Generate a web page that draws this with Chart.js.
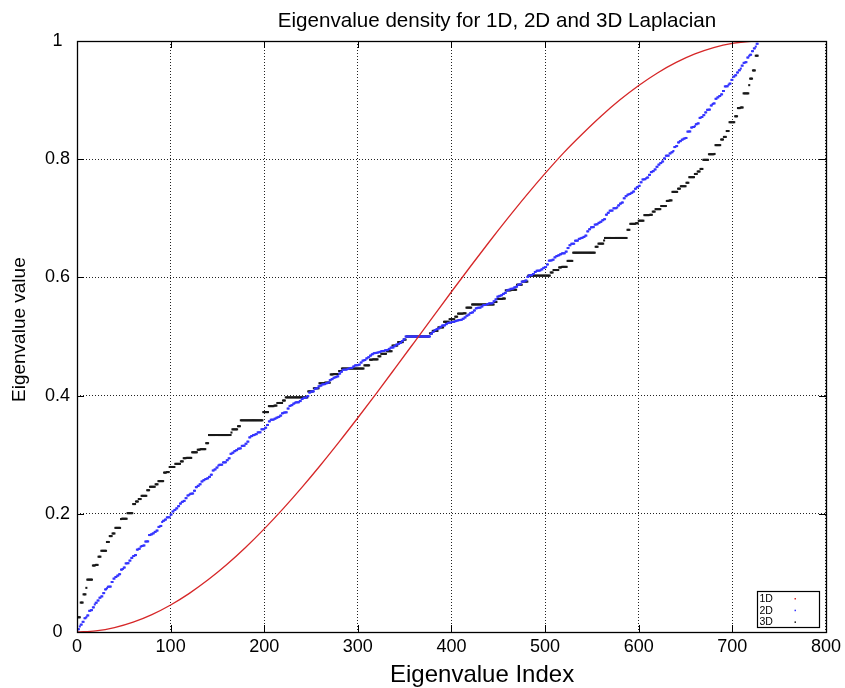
<!DOCTYPE html>
<html>
<head>
<meta charset="utf-8">
<title>Eigenvalue density for 1D, 2D and 3D Laplacian</title>
<script src="https://cdn.jsdelivr.net/npm/chart.js@4.4.1/dist/chart.umd.min.js"></script>
<style>
  html, body { margin: 0; padding: 0; background: #fff; }
  #wrap { width: 845px; height: 688px; position: relative; }
</style>
</head>
<body>
<div id="wrap"><canvas id="chart" width="845" height="688"></canvas></div>
<script>
// Normalised Laplacian spectra (0 = smallest eigenvalue, 1 = largest), 729 eigenvalues each.

// 1D chain of 729 nodes: sampled along the index axis
const idx1D = [0,20,40,60,80,100,120,140,160,180,200,220,240,260,280,300,320,340,360,380,
               400,420,440,460,480,500,520,540,560,580,600,620,640,660,680,700,720,728];
const eig1D = [0,0.0019,0.0074,0.0166,0.0294,0.0457,0.0654,0.0883,0.1142,0.1430,
               0.1745,0.2083,0.2443,0.2822,0.3217,0.3625,0.4043,0.4469,0.4898,0.5328,
               0.5757,0.6180,0.6595,0.6998,0.7388,0.7760,0.8112,0.8431,0.8731,0.9004,
               0.9247,0.9459,0.9637,0.9781,0.9889,0.9961,0.9996,1];

// 2D 27x27 grid: distinct eigenvalues in ascending order and their multiplicities
const eig2DLevels = [
  0,.0047,.0094,.0125,.0172,.0233,.0250,.0280,.0358,.0370,.0417,.0466,.0495,
  .0533,.0580,.0603,.0658,.0721,.0740,.0766,.0768,.0846,.0903,.0931,.0954,.0978,
  .1056,.1066,.1091,.1161,.1164,.1208,.1254,.1286,.1301,.1394,.1408,.1442,.1455,.1464,
  .1531,.1533,.1641,.1652,.1669,.1694,.1716,.1778,.1794,.1862,.1882,.1902,.1940,.1941,.1987,
  .2039,.2065,.2092,.2129,.2173,.2202,.2218,.2265,.2310,.2322,.2339,.2343,.2390,.2451,.2473,
  .2500,.2547,.2569,.2588,.2600,.2625,.2661,.2733,.2751,.2782,.2816,.2829,.2830,.2870,.2871,.2907,.2939,
  .3015,.3033,.3060,.3077,.3101,.3107,.3149,.3152,.3185,.3221,.3293,.3315,.3331,.3338,.3348,.3378,.3379,.3430,.3431,.3456,
  .3503,.3564,.3592,.3593,.3609,.3626,.3639,.3661,.3701,.3713,.3717,.3781,.3825,.3839,.3864,.3880,.3886,.3887,.3908,.3943,.3962,.3964,.3991,
  .4052,.4069,.4072,.4116,.4125,.4158,.4169,.4190,.4194,.4209,.4221,.4262,.4279,.4302,.4313,.4326,.4372,.4404,.4436,.4439,.4440,.4451,.4467,.4468,.4492,
  .4512,.4514,.4523,.4560,.4592,.4602,.4630,.4649,.4677,.4700,.4718,.4722,.4729,.4739,.4753,.4755,.4767,.4770,.4790,.4812,.4814,.4837,.4863,.4875,.4892,.4922,.4953,
  .5,
  .5047,.5078,.5108,.5125,.5137,.5163,.5186,.5188,.5210,.5230,.5233,.5245,.5247,.5261,.5271,.5278,.5282,.5300,.5323,.5351,.5370,.5398,.5408,.5440,.5477,.5486,.5488,
  .5508,.5532,.5533,.5549,.5560,.5561,.5564,.5596,.5628,.5674,.5687,.5698,.5721,.5738,.5779,.5791,.5806,.5810,.5831,.5842,.5875,.5884,.5928,.5931,.5948,
  .6009,.6036,.6038,.6057,.6092,.6113,.6114,.6120,.6136,.6161,.6175,.6219,.6283,.6287,.6299,.6339,.6361,.6374,.6391,.6407,.6408,.6436,.6497,
  .6544,.6569,.6570,.6621,.6622,.6652,.6662,.6669,.6685,.6707,.6779,.6815,.6848,.6851,.6893,.6899,.6923,.6940,.6967,.6985,
  .7061,.7093,.7129,.7130,.7170,.7171,.7184,.7218,.7249,.7267,.7339,.7375,.7400,.7412,.7431,.7453,.7500,
  .7527,.7549,.7610,.7657,.7661,.7678,.7690,.7735,.7782,.7798,.7827,.7871,.7908,.7935,.7961,
  .8013,.8059,.8060,.8098,.8118,.8138,.8206,.8222,.8284,.8306,.8331,.8348,.8359,.8467,.8469,
  .8536,.8545,.8558,.8592,.8606,.8699,.8714,.8746,.8792,.8836,.8839,.8909,.8934,.8944,
  .9022,.9046,.9069,.9097,.9154,.9232,.9234,.9260,.9279,.9342,.9397,.9420,.9467,
  .9505,.9534,.9583,.9630,.9642,.9720,.9750,.9767,.9828,.9875,.9906,.9953,1
];
const eig2DMult = [
  1,2,1,2,2,2,1,2,2,2,2,1,2,
  2,2,2,2,2,1,2,2,2,2,2,2,2,
  2,1,2,2,2,2,2,2,2,2,2,1,2,2,
  2,2,2,2,2,2,2,2,2,1,2,2,2,2,2,
  2,2,2,2,2,2,2,2,2,1,2,2,2,2,2,
  2,2,2,2,2,2,2,2,2,2,1,2,2,2,2,2,2,
  2,2,2,2,2,2,2,2,2,2,2,2,2,1,2,2,2,2,2,2,
  2,2,2,2,2,2,2,2,2,2,2,2,2,2,2,1,2,2,2,2,2,2,2,
  2,2,2,2,2,2,2,2,2,2,2,2,2,2,2,2,2,2,1,2,2,2,2,2,2,
  2,2,2,2,2,2,2,2,2,2,2,2,2,2,2,2,2,2,2,2,2,2,2,2,2,2,2,
  27,
  2,2,2,2,2,2,2,2,2,2,2,2,2,2,2,2,2,2,2,2,2,2,2,2,2,2,2,
  2,2,2,2,2,2,1,2,2,2,2,2,2,2,2,2,2,2,2,2,2,2,2,2,2,
  2,2,2,2,2,2,2,1,2,2,2,2,2,2,2,2,2,2,2,2,2,2,2,
  2,2,2,2,2,2,1,2,2,2,2,2,2,2,2,2,2,2,2,2,
  2,2,2,2,2,2,1,2,2,2,2,2,2,2,2,2,2,
  2,2,2,2,2,1,2,2,2,2,2,2,2,2,2,
  2,2,2,2,2,1,2,2,2,2,2,2,2,2,2,
  2,2,1,2,2,2,2,2,2,2,2,2,1,2,
  2,2,2,2,2,2,2,1,2,2,2,2,2,
  2,1,2,2,2,2,1,2,2,2,1,2,1
];

// 3D 9x9x9 grid: distinct eigenvalues in ascending order and their multiplicities
const eig3DLevels = [
  0,0.0249,0.0498,0.0637,0.0747,0.0886,0.1125,0.1135,0.1274,0.1374,
  0.1523,0.1623,0.1667,0.1762,0.1911,0.1916,0.2011,0.2165,0.2208,0.2250,
  0.2304,0.2399,0.2457,0.2499,0.2553,0.2697,0.2706,0.2792,0.2845,0.2887,
  0.2941,0.2946,0.3041,0.3084,0.3094,0.3195,0.3333,0.3375,0.3429,0.3482,
  0.3582,0.3721,0.3822,0.3831,0.3875,0.3917,0.3970,0.4071,0.4124,0.4209,
  0.4219,0.4358,0.4364,0.4416,0.4458,0.4512,0.4607,0.4613,0.4665,0.4707,
  0.4751,0.4846,0.4905,0.4947,
  0.5,
  0.5053,0.5095,0.5154,0.5249,0.5293,0.5335,0.5387,0.5393,0.5488,0.5542,
  0.5584,0.5636,0.5642,0.5781,0.5791,0.5876,0.5929,0.6030,0.6083,0.6125,
  0.6169,0.6178,0.6279,0.6418,0.6518,0.6571,0.6625,0.6667,0.6805,0.6906,
  0.6916,0.6959,0.7054,0.7059,0.7113,0.7155,0.7208,0.7294,0.7303,0.7447,
  0.7501,0.7543,0.7601,0.7696,0.7750,0.7792,0.7835,0.7989,0.8084,0.8089,
  0.8238,0.8333,0.8377,0.8477,0.8626,0.8726,0.8865,0.8875,0.9114,0.9253,
  0.9363,0.9502,0.9751,1
];
const eig3DMult = [
  1,3,3,3,1,6,3,3,3,6,
  3,3,3,6,1,6,6,3,3,3,
  6,3,6,3,6,3,3,6,6,3,
  3,6,6,3,6,3,24,1,6,3,
  24,6,6,3,6,3,24,6,6,6,
  6,3,6,3,24,6,3,6,3,6,
  6,6,6,3,
  25,
  3,6,6,6,6,3,6,3,6,24,
  3,6,3,6,6,6,6,24,3,6,
  3,6,6,24,3,6,1,24,3,6,
  3,6,6,3,3,6,6,3,3,6,
  3,6,3,6,3,3,3,6,6,1,
  6,3,3,3,6,3,3,3,6,1,
  3,3,3,1
];

const seriesNames = ['1D', '2D', '3D'];
const seriesColors = ['rgb(214,39,40)', 'rgb(52,52,255)', 'rgb(25,25,25)'];
const xTicks = [0, 100, 200, 300, 400, 500, 600, 700, 800];
const yTicks = [0, 0.2, 0.4, 0.6, 0.8, 1];
const yTickLabels = ['0', '0.2', '0.4', '0.6', '0.8', '1'];

const titleText = 'Eigenvalue density for 1D, 2D and 3D Laplacian';
const xTitleText = 'Eigenvalue Index';
const yTitleText = 'Eigenvalue value';

const FONT = '"Liberation Sans", Arial, Helvetica, sans-serif';

// sorted eigenvalue list -> {x: index, y: value}, each level repeated by its multiplicity
function spectrumPoints(levels, mult) {
  const pts = [];
  let k = 0;
  levels.forEach((v, i) => {
    for (let m = 0; m < mult[i]; m++) pts.push({ x: k++, y: v });
  });
  return pts;
}
const pts1D = idx1D.map((x, i) => ({ x, y: eig1D[i] }));
const pts2D = spectrumPoints(eig2DLevels, eig2DMult);
const pts3D = spectrumPoints(eig3DLevels, eig3DMult);

// box, inward tick marks, titles and the small legend
const decorations = {
  id: 'decorations',
  afterDraw(chart) {
    const { ctx, chartArea: a, scales } = chart;
    const xs = scales.x, ys = scales.y;
    ctx.save();
    ctx.strokeStyle = '#000';
    ctx.lineWidth = 1;
    ctx.beginPath();
    const L = 7;
    xTicks.forEach(t => {
      const px = Math.round(xs.getPixelForValue(t)) + 0.5;
      ctx.moveTo(px, a.bottom); ctx.lineTo(px, a.bottom - L);
      ctx.moveTo(px, a.top); ctx.lineTo(px, a.top + L);
    });
    yTicks.forEach(t => {
      const py = Math.round(ys.getPixelForValue(t)) + 0.5;
      ctx.moveTo(a.left, py); ctx.lineTo(a.left + L, py);
      ctx.moveTo(a.right, py); ctx.lineTo(a.right - L, py);
    });
    ctx.stroke();
    ctx.lineWidth = 1.3;
    ctx.strokeRect(Math.round(a.left) + 0.5, Math.round(a.top) + 0.5,
                   Math.round(a.right - a.left), Math.round(a.bottom - a.top));

    // titles
    ctx.fillStyle = '#000';
    ctx.textBaseline = 'alphabetic';
    ctx.font = '20.6px ' + FONT;
    ctx.textAlign = 'center';
    ctx.fillText(titleText, 497, 27);
    ctx.textAlign = 'left';
    ctx.font = '24px ' + FONT;
    ctx.fillText(xTitleText, 390, 682);
    ctx.save();
    ctx.translate(25, 402);
    ctx.rotate(-Math.PI / 2);
    ctx.font = '19px ' + FONT;
    ctx.fillText(yTitleText, 0, 0);
    ctx.restore();

    // legend
    const lx = 757.5, ly = 591.5, lw = 62, lh = 36;
    ctx.fillStyle = '#fff';
    ctx.fillRect(lx, ly, lw, lh);
    ctx.lineWidth = 1.2;
    ctx.strokeRect(lx, ly, lw, lh);
    ctx.font = '10.5px ' + FONT;
    ctx.textAlign = 'left';
    chart.data.datasets.forEach((ds, i) => {
      const base = ly + 10.5 + i * 11.7;
      ctx.fillStyle = '#000';
      ctx.fillText(ds.label, lx + 2, base);
      ctx.fillStyle = seriesColors[i];
      ctx.fillRect(lx + 37, base - 4, 1.5, 1.5);
    });
    ctx.restore();
  }
};

Chart.defaults.font.family = FONT;
Chart.defaults.color = '#000';

new Chart(document.getElementById('chart'), {
  type: 'scatter',
  data: {
    datasets: [
      {
        label: seriesNames[0], data: pts1D, showLine: true,
        borderColor: seriesColors[0], backgroundColor: seriesColors[0],
        borderWidth: 1.3, pointRadius: 0, cubicInterpolationMode: 'monotone'
      },
      {
        label: seriesNames[1], data: pts2D,
        backgroundColor: seriesColors[1], borderColor: seriesColors[1],
        pointStyle: 'rect', pointRadius: 1.45, pointBorderWidth: 0
      },
      {
        label: seriesNames[2], data: pts3D,
        backgroundColor: seriesColors[2], borderColor: seriesColors[2],
        pointStyle: 'rect', pointRadius: 1.45, pointBorderWidth: 0
      }
    ]
  },
  options: {
    responsive: false,
    animation: false,
    devicePixelRatio: 1,
    layout: { padding: { left: 0, right: 19, top: 41, bottom: 0 } },
    plugins: { legend: { display: false }, tooltip: { enabled: false }, title: { display: false } },
    scales: {
      x: {
        type: 'linear', min: 0, max: 800,
        afterBuildTicks: s => { s.ticks = xTicks.map(v => ({ value: v })); },
        afterFit: s => { s.height = 56; },
        ticks: { font: { size: 18 }, padding: 4, maxRotation: 0 },
        grid: { color: '#222', lineWidth: 1, drawTicks: false },
        border: { display: false, dash: [1, 2] }
      },
      y: {
        type: 'linear', min: 0, max: 1,
        afterBuildTicks: s => { s.ticks = yTicks.map(v => ({ value: v })); },
        afterFit: s => { s.width = 77; },
        ticks: {
          font: { size: 18 }, padding: 7, crossAlign: 'center',
          callback: (v, i) => yTickLabels[i]
        },
        grid: { color: '#222', lineWidth: 1, drawTicks: false },
        border: { display: false, dash: [1, 2] }
      }
    }
  },
  plugins: [decorations]
});
</script>
</body>
</html>
